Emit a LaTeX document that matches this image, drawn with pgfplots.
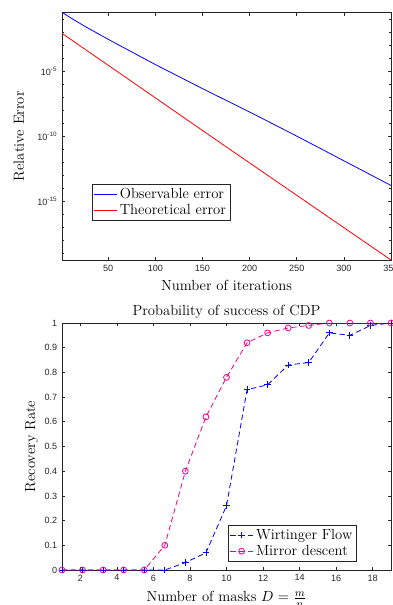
\documentclass[border=0pt]{standalone}
\usepackage{fontspec}
\usepackage{pgfplots}
\pgfplotsset{compat=1.18}
\newfontfamily\ticksf{Liberation Sans}
\definecolor{axgray}{gray}{0.15}
\pgfplotstableread{
x y
1 3.72e-1
10 1.41e-1
25 3.16e-2
50 3.09e-3
100 3.55e-5
150 5.01e-7
200 7.94e-9
250 1.12e-10
300 1.41e-12
350 1.78e-14
}\obs
\pgfplotstableread{
x y
1 8.91e-3
175 1.70e-11
350 3.31e-20
}\theo
\pgfplotstableread{
x wf md
1 0 0
2.125 0 0
3.25 0 0
4.375 0 0
5.5 0 0
6.625 0 0.10
7.75 0.03 0.40
8.875 0.07 0.62
10 0.26 0.78
11.125 0.73 0.92
12.25 0.75 0.96
13.375 0.83 0.98
14.5 0.84 0.99
15.625 0.96 1.00
16.75 0.95 1.00
17.875 0.99 1.00
19 1.00 1.00
}\cdp
\pgfplotsset{
  mystyle/.style={
    scale only axis,
    axis line style={axgray, line width=0.5pt},
    tick style={axgray, line width=0.5pt},
    tick align=inside,
    major tick length=2.5pt,
    minor tick length=1.5pt,
    tick label style={font=\ticksf\fontsize{6.8}{7.8}\selectfont, text=axgray},
    /pgf/number format/assume math mode=true,
    label style={font=\fontsize{11}{13}\selectfont},
    legend style={font=\fontsize{11}{13}\selectfont, draw=axgray, line width=0.5pt, inner sep=1pt, row sep=-1pt, cells={anchor=west}},
    legend cell align=left,
  }
}
\begin{document}
\begin{tikzpicture}
\path[use as bounding box] (0,0) rectangle (294pt,-453.75pt);
\begin{semilogyaxis}[mystyle,
  anchor=north west, at={(46.5pt,-9.2pt)},
  width=246.75pt, height=185.8pt,
  xmin=1, xmax=350, ymin=3.31e-20, ymax=3.72e-1,
  xtick={50,100,150,200,250,300,350},
  ytick={1e-15,1e-10,1e-5},
  yticklabels={10\textsuperscript{-15},10\textsuperscript{-10},10\textsuperscript{-5}},
  minor ytick={1e-19,1e-18,1e-17,1e-16,1e-14,1e-13,1e-12,1e-11,1e-9,1e-8,1e-7,1e-6,1e-4,1e-3,1e-2,1e-1},
  xlabel={Number of iterations},
  ylabel={Relative Error},
  xlabel style={yshift=0pt},
  ylabel style={yshift=3pt},
  legend style={at={(0.091,0.157)}, anchor=south west},
]
\addplot[blue, line width=0.6pt, no marks] table[x=x,y=y] {\obs};
\addlegendentry{Observable error}
\addplot[red, line width=0.6pt, no marks] table[x=x,y=y] {\theo};
\addlegendentry{Theoretical error}
\end{semilogyaxis}
\begin{axis}[mystyle,
  anchor=north west, at={(46.5pt,-242.25pt)},
  width=246.75pt, height=185.25pt,
  xmin=1, xmax=19, ymin=0, ymax=1,
  xtick={2,4,...,18},
  ytick={0,0.1,...,1},
  yticklabel style={/pgf/number format/fixed},
  title={Probability of success of CDP},
  title style={font=\fontsize{11}{13}\selectfont, yshift=-6pt},
  xlabel={Number of masks $D=\frac{m}{n}$},
  ylabel={Recovery Rate},
  xlabel style={yshift=-1pt},
  ylabel style={yshift=-2pt},
  legend style={at={(0.505,0.034)}, anchor=south west},
]
\addplot[blue, line width=0.6pt, dash pattern=on 4pt off 2.5pt, mark=+, mark size=2.5pt, mark options={solid}] table[x=x,y=wf] {\cdp};
\addlegendentry{Wirtinger Flow}
\addplot[magenta, line width=0.6pt, dash pattern=on 4pt off 2.5pt, mark=o, mark size=2.2pt, mark options={solid}] table[x=x,y=md] {\cdp};
\addlegendentry{Mirror descent}
\end{axis}
\end{tikzpicture}
\end{document}
